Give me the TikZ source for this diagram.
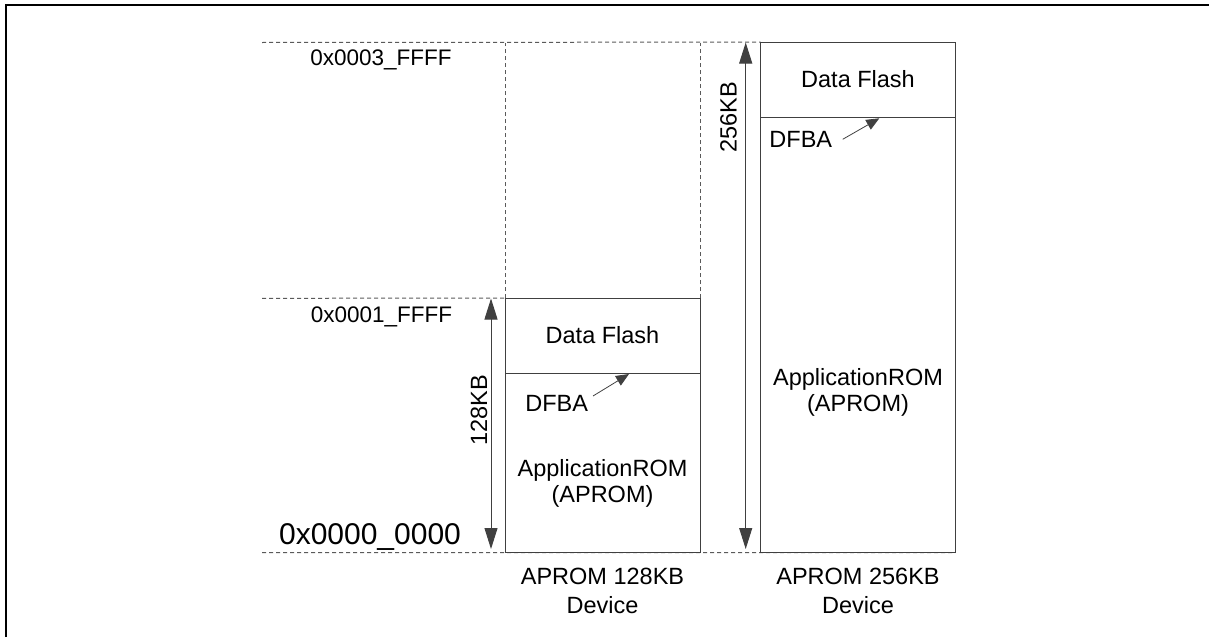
\documentclass[tikz,border=0pt]{standalone}
\usepackage{fontspec}
\setmainfont{Liberation Sans}
\usetikzlibrary{arrows.meta}
\definecolor{linegray}{HTML}{404040}
\definecolor{dashgray}{HTML}{5A5A5A}
\begin{document}
\begin{tikzpicture}[x=1pt,y=-1pt,
  lbl/.style={font=\fontsize{23.5}{26}\selectfont, inner sep=0pt, anchor=base},
  addr/.style={font=\fontsize{22.5}{25}\selectfont, inner sep=0pt, anchor=base},
  bigaddr/.style={font=\fontsize{30}{34}\selectfont, inner sep=0pt, anchor=base},
  membox/.style={draw=linegray, line width=1pt, inner sep=0pt},
  divline/.style={draw=linegray, line width=1pt},
  guide/.style={draw=dashgray, line width=1pt, dash pattern=on 4pt off 3pt},
  span/.style={draw=linegray, line width=1pt, {Triangle[length=21pt,width=13pt]}-{Triangle[length=21pt,width=13pt]}},
  ptr/.style={draw=linegray, line width=0.8pt, -{Triangle[length=13pt,width=11pt]}},
]
\useasboundingbox (0,0) rectangle (1209,637);
% outer frame (cropped)
\draw[line width=2pt] (6,637) -- (6,5) -- (1209,5);

% reference coordinates
\coordinate (t0) at (262,42.5);
\coordinate (m0) at (262,298.3);
\coordinate (b0) at (262,552.5);
\coordinate (ldiv) at (0,373.3);
\coordinate (rdiv) at (0,117.3);

% boxes (positions only, drawn later)
\path (602.85,425.4) node[minimum width=194.3pt, minimum height=254.2pt, inner sep=0pt] (lbox) {};
\path (857.85,297.4) node[minimum width=194.3pt, minimum height=510.2pt, inner sep=0pt] (rbox) {};

% dashed guides
\draw[guide] (t0) -- (rbox.north west);
\draw[guide] (m0) -- (lbox.north west);
\draw[guide] (b0) -- (rbox.south east);
\draw[guide] (lbox.north west) -- (lbox.north west |- t0);
\draw[guide] (lbox.north east) -- (lbox.north east |- t0);

% memory boxes
\draw[membox] (lbox.north west) rectangle (lbox.south east);
\draw[membox] (rbox.north west) rectangle (rbox.south east);
\draw[divline] (lbox.west |- ldiv) -- (lbox.east |- ldiv);
\draw[divline] (rbox.west |- rdiv) -- (rbox.east |- rdiv);

% size arrows
\coordinate (s1t) at (491,298.5);
\coordinate (s1b) at (491,549);
\coordinate (s2t) at (745.7,42.5);
\coordinate (s2b) at (745.7,549);
\draw[span] (s1t) -- (s1b);
\draw[span] (s2t) -- (s2b);
\node[lbl, rotate=90] (k128) at (487,410) {128KB};
\node[lbl, rotate=90] (k256) at (736.7,117) {256KB};

% addresses
\node[addr] (a3) at (381,65) {0x0003\_FFFF};
\node[addr] (a1) at (381.5,322) {0x0001\_FFFF};
\node[bigaddr] (a0) at (370,544) {0x0000\_0000};

% left device contents
\node[lbl] (ldf) at (602.5,343) {Data Flash};
\node[lbl] (ldfba) at (556.7,411) {DFBA};
\coordinate (lp0) at (593,396);
\coordinate (lp1) at (629,374);
\draw[ptr] (lp0) -- (lp1);
\node[lbl] (lap1) at (602.5,476) {ApplicationROM};
\node[lbl] (lap2) at (602.5,502) {(APROM)};

% right device contents
\node[lbl] (rdf) at (858,87) {Data Flash};
\node[lbl] (rdfba) at (800.8,147) {DFBA};
\coordinate (rp0) at (842.7,139.3);
\coordinate (rp1) at (879.3,118.3);
\draw[ptr] (rp0) -- (rp1);
\node[lbl] (rap1) at (858,385) {ApplicationROM};
\node[lbl] (rap2) at (858,411) {(APROM)};

% captions
\node[lbl] (c1a) at (602.5,584) {APROM 128KB};
\node[lbl] (c1b) at (602.5,613) {Device};
\node[lbl] (c2a) at (858,584) {APROM 256KB};
\node[lbl] (c2b) at (858,613) {Device};
\end{tikzpicture}
\end{document}
